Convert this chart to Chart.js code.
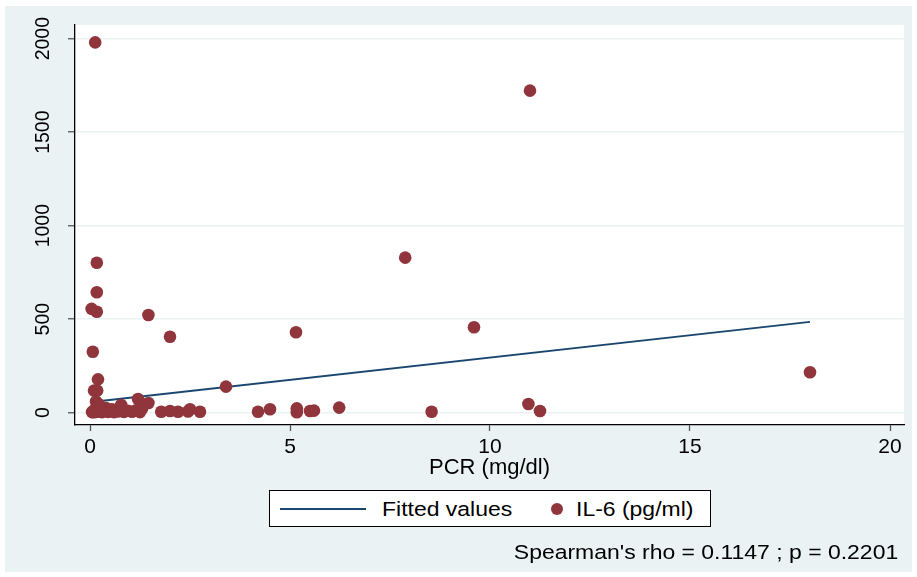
<!DOCTYPE html>
<html>
<head>
<meta charset="utf-8">
<title>IL-6 vs PCR</title>
<script src="https://cdn.jsdelivr.net/npm/chart.js@4.4.1/dist/chart.umd.min.js"></script>
<style>
    body { margin: 0; background: #fff; font-family: 'Liberation Sans', Arial, sans-serif; }
    #frame { position: absolute; left: 5px; top: 6px; width: 907px; height: 566px; background: #eaf2f3; }
    #chart { position: absolute; left: 0; top: 0; }
    #legend { position: absolute; left: 269px; top: 490px; width: 440px; height: 35px; background: #fff; border: 1px solid #000; }
    #legend .txt { position: absolute; top: 0; line-height: 35px; font-size: 20.5px; color: #000; white-space: nowrap; transform: scaleX(1.12); transform-origin: left center; }
    #legend .line { position: absolute; left: 10px; top: 17px; width: 86px; height: 2px; }
    #legend .dot { position: absolute; left: 281px; top: 12px; width: 12px; height: 12px; border-radius: 50%; }
    #note { position: absolute; right: 19px; top: 540px; line-height: 24px; font-size: 20.5px; color: #000; white-space: nowrap; transform: scaleX(1.12); transform-origin: right center; }
</style>
</head>
<body>
<div id="frame"></div>
<canvas id="chart" width="917" height="577"></canvas>
<div id="legend">
    <div class="line" id="leg-line"></div>
    <div class="txt" id="leg-fit" style="left:112px"></div>
    <div class="dot" id="leg-dot"></div>
    <div class="txt" id="leg-scatter" style="left:306px"></div>
</div>
<div id="note"></div>
<script>
// PCR (mg/dl) and IL-6 (pg/ml), one entry per patient
const pcr = [
    0.05, 0.08, 0.10, 0.12, 0.15, 0.18, 0.20, 0.22, 0.25, 0.28, 0.30, 0.35, 0.40, 0.45,
    0.50, 0.55, 0.60, 0.70, 0.78, 0.85, 0.95, 1.05, 1.15, 1.20, 1.25, 1.30, 1.46,
    1.78, 2.00, 2.20, 2.45, 2.50, 2.75,
    3.40, 4.20, 4.50, 5.17, 5.17, 5.50, 5.60, 6.23, 8.54, 10.96, 11.25, 18.00,
    5.15, 9.60, 7.88, 11.00, 0.13, 0.17, 0.17, 0.04, 0.17, 1.46, 2.00, 0.07,
    0.20, 0.10, 0.18
];
const il6 = [
    3, 8, 2, 15, 60, 30, 5, 45, 12, 20, 3, 10, 25, 4,
    8, 18, 3, 6, 41, 4, 10, 5, 12, 73, 3, 20, 52,
    5, 9, 5, 6, 18, 5,
    139, 5, 18, 23, 2, 9, 11, 27, 5, 46, 9, 216,
    430, 457, 829, 1722, 1980, 802, 644, 555, 540, 522, 406, 326,
    178, 118, 118
];

// linear fit line, end points
const fitX = [0.04, 18.0];
const fitY = [57, 485];

const xTicks = [0, 5, 10, 15, 20];
const yTicks = [0, 500, 1000, 1500, 2000];
const xMin = -0.375, xMax = 20.35;
const yMin = -66, yMax = 2073;

const xTitle = 'PCR (mg/dl)';
const fitLabel = 'Fitted values';
const scatterLabel = 'IL-6 (pg/ml)';
const noteText = "Spearman's rho = 0.1147 ; p = 0.2201";

const lineColor = '#1a476f';
const dotColor = '#90353b';
const family = "'Liberation Sans', Arial, sans-serif";

const plotBackground = {
    id: 'plotBackground',
    beforeDraw(chart) {
        const { ctx, chartArea: a } = chart;
        ctx.save();
        ctx.fillStyle = '#fff';
        ctx.fillRect(a.left, a.top, a.right - a.left, a.bottom - a.top);
        ctx.restore();
    }
};

new Chart(document.getElementById('chart'), {
    type: 'scatter',
    data: {
        datasets: [
            {
                label: scatterLabel,
                data: pcr.map((x, i) => ({ x: x, y: il6[i] })),
                backgroundColor: dotColor,
                borderWidth: 0,
                pointRadius: 6.3,
                pointHoverRadius: 6.3
            },
            {
                type: 'line',
                label: fitLabel,
                data: fitX.map((x, i) => ({ x: x, y: fitY[i] })),
                borderColor: lineColor,
                borderWidth: 1.8,
                pointRadius: 0,
                fill: false
            }
        ]
    },
    options: {
        responsive: false,
        animation: false,
        devicePixelRatio: 1,
        layout: { padding: { left: 0, right: 13, top: 25, bottom: 96 } },
        plugins: { legend: { display: false }, tooltip: { enabled: false } },
        scales: {
            x: {
                type: 'linear',
                min: xMin,
                max: xMax,
                afterBuildTicks: s => { s.ticks = xTicks.map(v => ({ value: v })); },
                ticks: { color: '#000', maxRotation: 0, padding: 4, callback: v => String(v),
                         font: { family: family, size: 21 } },
                grid: { drawOnChartArea: false, tickLength: 6, tickColor: '#555', tickWidth: 1.3 },
                border: { color: '#000', width: 1.3 },
                title: { display: true, text: xTitle, color: '#000', padding: 0,
                         font: { family: family, size: 22 } },
                afterFit: s => { s.height = 56; }
            },
            y: {
                type: 'linear',
                min: yMin,
                max: yMax,
                afterBuildTicks: s => { s.ticks = yTicks.map(v => ({ value: v })); },
                ticks: { color: '#000', minRotation: 90, maxRotation: 90, callback: v => String(v),
                         crossAlign: 'center', padding: 3, font: { family: family, size: 19.5 } },
                grid: { color: '#eaf2f3', lineWidth: 1.5, tickLength: 7, tickColor: '#555', tickWidth: 1.3 },
                border: { color: '#000', width: 1.3 },
                afterFit: s => { s.width = 75; }
            }
        }
    },
    plugins: [plotBackground]
});

// legend and note
document.getElementById('leg-line').style.background = lineColor;
document.getElementById('leg-dot').style.background = dotColor;
document.getElementById('leg-fit').textContent = fitLabel;
document.getElementById('leg-scatter').textContent = scatterLabel;
document.getElementById('note').textContent = noteText;
</script>
</body>
</html>
